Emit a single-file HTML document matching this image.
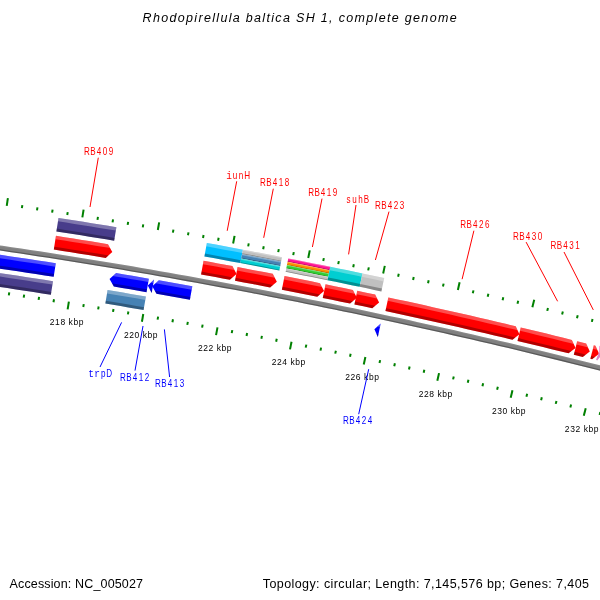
<!DOCTYPE html>
<html><head><meta charset="utf-8"><title>Rhodopirellula baltica SH 1</title>
<style>
html,body{margin:0;padding:0;background:#fff;}
body{width:600px;height:600px;overflow:hidden;}
svg{display:block;font-family:"Liberation Sans",sans-serif;will-change:transform;}
</style></head><body>
<svg width="600" height="600" viewBox="0 0 600 600">
<rect width="600" height="600" fill="#fff"/>
<polygon points="-25.42,241.71 -16.12,243.04 -6.83,244.39 2.46,245.75 11.75,247.13 21.04,248.52 30.32,249.92 39.60,251.34 48.88,252.78 58.16,254.23 67.44,255.69 76.71,257.17 85.98,258.66 95.25,260.17 104.52,261.70 113.78,263.23 123.04,264.78 132.30,266.35 141.56,267.93 150.81,269.53 160.06,271.14 169.31,272.76 178.56,274.40 187.80,276.06 197.04,277.73 206.28,279.41 215.51,281.11 224.75,282.82 233.98,284.55 243.20,286.29 252.43,288.05 261.65,289.82 270.87,291.60 280.09,293.40 289.30,295.22 298.51,297.04 307.72,298.89 316.92,300.75 326.13,302.62 335.32,304.50 344.52,306.41 353.71,308.32 362.90,310.25 372.09,312.20 381.27,314.16 390.45,316.13 399.63,318.12 408.81,320.12 417.98,322.14 427.14,324.17 436.31,326.22 445.47,328.28 454.63,330.35 463.78,332.44 472.94,334.55 482.08,336.67 491.23,338.80 500.37,340.95 509.51,343.11 518.64,345.28 527.77,347.47 536.90,349.68 546.03,351.90 555.15,354.13 564.26,356.38 573.38,358.64 582.49,360.92 591.60,363.21 600.70,365.52 609.80,367.84 618.89,370.17 617.61,375.16 608.52,372.83 599.43,370.51 590.33,368.21 581.24,365.92 572.13,363.64 563.03,361.38 553.92,359.13 544.81,356.90 535.69,354.68 526.57,352.48 517.45,350.29 508.32,348.12 499.19,345.96 490.05,343.81 480.92,341.68 471.78,339.57 462.63,337.46 453.49,335.38 444.34,333.30 435.18,331.24 426.03,329.20 416.87,327.17 407.70,325.15 398.54,323.15 389.37,321.17 380.19,319.19 371.02,317.24 361.84,315.29 352.66,313.36 343.47,311.45 334.29,309.55 325.09,307.66 315.90,305.79 306.70,303.94 297.50,302.09 288.30,300.27 279.10,298.45 269.89,296.66 260.68,294.87 251.46,293.10 242.25,291.35 233.03,289.61 223.80,287.88 214.58,286.17 205.35,284.48 196.12,282.79 186.89,281.13 177.65,279.47 168.41,277.84 159.17,276.21 149.93,274.60 140.68,273.01 131.44,271.43 122.19,269.86 112.93,268.31 103.68,266.78 94.42,265.26 85.16,263.75 75.90,262.26 66.63,260.78 57.36,259.32 48.09,257.87 38.82,256.43 29.55,255.01 20.27,253.61 10.99,252.22 1.71,250.84 -7.57,249.48 -16.86,248.14 -26.15,246.81" fill="rgb(128,128,128)" />
<polygon points="-25.42,241.71 -16.12,243.04 -6.83,244.39 2.46,245.75 11.75,247.13 21.04,248.52 30.32,249.92 39.60,251.34 48.88,252.78 58.16,254.23 67.44,255.69 76.71,257.17 85.98,258.66 95.25,260.17 104.52,261.70 113.78,263.23 123.04,264.78 132.30,266.35 141.56,267.93 150.81,269.53 160.06,271.14 169.31,272.76 178.56,274.40 187.80,276.06 197.04,277.73 206.28,279.41 215.51,281.11 224.75,282.82 233.98,284.55 243.20,286.29 252.43,288.05 261.65,289.82 270.87,291.60 280.09,293.40 289.30,295.22 298.51,297.04 307.72,298.89 316.92,300.75 326.13,302.62 335.32,304.50 344.52,306.41 353.71,308.32 362.90,310.25 372.09,312.20 381.27,314.16 390.45,316.13 399.63,318.12 408.81,320.12 417.98,322.14 427.14,324.17 436.31,326.22 445.47,328.28 454.63,330.35 463.78,332.44 472.94,334.55 482.08,336.67 491.23,338.80 500.37,340.95 509.51,343.11 518.64,345.28 527.77,347.47 536.90,349.68 546.03,351.90 555.15,354.13 564.26,356.38 573.38,358.64 582.49,360.92 591.60,363.21 600.70,365.52 609.80,367.84 618.89,370.17 618.59,371.33 609.50,369.00 600.40,366.68 591.30,364.38 582.20,362.08 573.09,359.81 563.98,357.55 554.86,355.30 545.74,353.06 536.62,350.85 527.49,348.64 518.36,346.45 509.23,344.28 500.09,342.11 490.96,339.97 481.81,337.83 472.67,335.72 463.52,333.61 454.36,331.52 445.21,329.45 436.05,327.39 426.88,325.34 417.72,323.31 408.55,321.29 399.38,319.29 390.20,317.30 381.02,315.33 371.84,313.37 362.65,311.43 353.47,309.50 344.28,307.58 335.08,305.68 325.88,303.79 316.68,301.92 307.48,300.06 298.28,298.22 289.07,296.39 279.86,294.58 270.64,292.78 261.42,290.99 252.20,289.22 242.98,287.47 233.76,285.73 224.53,284.00 215.30,282.29 206.06,280.59 196.83,278.91 187.59,277.24 178.35,275.59 169.10,273.95 159.85,272.32 150.60,270.71 141.35,269.12 132.10,267.53 122.84,265.97 113.58,264.42 104.32,262.88 95.06,261.36 85.79,259.85 76.52,258.36 67.25,256.88 57.98,255.41 48.70,253.96 39.42,252.53 30.14,251.11 20.86,249.70 11.57,248.31 2.29,246.94 -7.00,245.58 -16.29,244.23 -25.59,242.90" fill="rgba(255,255,255,0.08)" />
<polygon points="-25.96,245.52 -16.67,246.85 -7.39,248.20 1.90,249.56 11.18,250.93 20.46,252.32 29.74,253.73 39.02,255.15 48.29,256.58 57.56,258.03 66.83,259.49 76.10,260.97 85.37,262.47 94.63,263.97 103.89,265.49 113.15,267.03 122.40,268.58 131.65,270.15 140.90,271.73 150.15,273.32 159.40,274.93 168.64,276.56 177.88,278.19 187.12,279.85 196.35,281.51 205.59,283.20 214.82,284.89 224.04,286.61 233.27,288.33 242.49,290.07 251.71,291.83 260.92,293.60 270.14,295.38 279.35,297.18 288.55,298.99 297.76,300.82 306.96,302.66 316.16,304.52 325.35,306.39 334.55,308.28 343.74,310.18 352.92,312.09 362.11,314.02 371.29,315.96 380.47,317.92 389.64,319.89 398.81,321.88 407.98,323.88 417.15,325.90 426.31,327.93 435.47,329.97 444.62,332.03 453.77,334.11 462.92,336.20 472.07,338.30 481.21,340.42 490.35,342.55 499.49,344.69 508.62,346.85 517.75,349.03 526.87,351.22 536.00,353.42 545.11,355.64 554.23,357.87 563.34,360.12 572.45,362.38 581.55,364.65 590.65,366.94 599.75,369.25 608.84,371.57 617.93,373.90 617.61,375.16 608.52,372.83 599.43,370.51 590.33,368.21 581.24,365.92 572.13,363.64 563.03,361.38 553.92,359.13 544.81,356.90 535.69,354.68 526.57,352.48 517.45,350.29 508.32,348.12 499.19,345.96 490.05,343.81 480.92,341.68 471.78,339.57 462.63,337.46 453.49,335.38 444.34,333.30 435.18,331.24 426.03,329.20 416.87,327.17 407.70,325.15 398.54,323.15 389.37,321.17 380.19,319.19 371.02,317.24 361.84,315.29 352.66,313.36 343.47,311.45 334.29,309.55 325.09,307.66 315.90,305.79 306.70,303.94 297.50,302.09 288.30,300.27 279.10,298.45 269.89,296.66 260.68,294.87 251.46,293.10 242.25,291.35 233.03,289.61 223.80,287.88 214.58,286.17 205.35,284.48 196.12,282.79 186.89,281.13 177.65,279.47 168.41,277.84 159.17,276.21 149.93,274.60 140.68,273.01 131.44,271.43 122.19,269.86 112.93,268.31 103.68,266.78 94.42,265.26 85.16,263.75 75.90,262.26 66.63,260.78 57.36,259.32 48.09,257.87 38.82,256.43 29.55,255.01 20.27,253.61 10.99,252.22 1.71,250.84 -7.57,249.48 -16.86,248.14 -26.15,246.81" fill="rgba(0,0,0,0.3)" />
<line x1="-8.39" y1="203.59" x2="-7.96" y2="200.62" stroke="rgb(0,128,0)" stroke-width="2"/>
<line x1="-20.59" y1="288.01" x2="-21.02" y2="290.98" stroke="rgb(0,128,0)" stroke-width="2"/>
<line x1="6.75" y1="205.80" x2="7.88" y2="198.08" stroke="rgb(0,128,0)" stroke-width="2"/>
<line x1="-5.67" y1="290.19" x2="-6.80" y2="297.91" stroke="rgb(0,128,0)" stroke-width="2"/>
<line x1="21.88" y1="208.04" x2="22.33" y2="205.08" stroke="rgb(0,128,0)" stroke-width="2"/>
<line x1="9.25" y1="292.40" x2="8.81" y2="295.37" stroke="rgb(0,128,0)" stroke-width="2"/>
<line x1="37.01" y1="210.33" x2="37.46" y2="207.36" stroke="rgb(0,128,0)" stroke-width="2"/>
<line x1="24.17" y1="294.66" x2="23.71" y2="297.62" stroke="rgb(0,128,0)" stroke-width="2"/>
<line x1="52.13" y1="212.65" x2="52.59" y2="209.69" stroke="rgb(0,128,0)" stroke-width="2"/>
<line x1="39.07" y1="296.95" x2="38.62" y2="299.91" stroke="rgb(0,128,0)" stroke-width="2"/>
<line x1="67.25" y1="215.01" x2="67.72" y2="212.05" stroke="rgb(0,128,0)" stroke-width="2"/>
<line x1="53.98" y1="299.27" x2="53.51" y2="302.24" stroke="rgb(0,128,0)" stroke-width="2"/>
<line x1="82.36" y1="217.41" x2="83.60" y2="209.71" stroke="rgb(0,128,0)" stroke-width="2"/>
<line x1="68.87" y1="301.64" x2="67.64" y2="309.34" stroke="rgb(0,128,0)" stroke-width="2"/>
<line x1="97.47" y1="219.85" x2="97.95" y2="216.89" stroke="rgb(0,128,0)" stroke-width="2"/>
<line x1="83.76" y1="304.05" x2="83.28" y2="307.01" stroke="rgb(0,128,0)" stroke-width="2"/>
<line x1="112.57" y1="222.33" x2="113.06" y2="219.37" stroke="rgb(0,128,0)" stroke-width="2"/>
<line x1="98.65" y1="306.49" x2="98.16" y2="309.45" stroke="rgb(0,128,0)" stroke-width="2"/>
<line x1="127.66" y1="224.85" x2="128.16" y2="221.89" stroke="rgb(0,128,0)" stroke-width="2"/>
<line x1="113.52" y1="308.97" x2="113.03" y2="311.93" stroke="rgb(0,128,0)" stroke-width="2"/>
<line x1="142.75" y1="227.40" x2="143.25" y2="224.45" stroke="rgb(0,128,0)" stroke-width="2"/>
<line x1="128.40" y1="311.49" x2="127.89" y2="314.44" stroke="rgb(0,128,0)" stroke-width="2"/>
<line x1="157.83" y1="230.00" x2="159.16" y2="222.31" stroke="rgb(0,128,0)" stroke-width="2"/>
<line x1="143.26" y1="314.04" x2="141.93" y2="321.73" stroke="rgb(0,128,0)" stroke-width="2"/>
<line x1="172.90" y1="232.63" x2="173.42" y2="229.67" stroke="rgb(0,128,0)" stroke-width="2"/>
<line x1="158.12" y1="316.64" x2="157.60" y2="319.59" stroke="rgb(0,128,0)" stroke-width="2"/>
<line x1="187.96" y1="235.30" x2="188.49" y2="232.34" stroke="rgb(0,128,0)" stroke-width="2"/>
<line x1="172.97" y1="319.27" x2="172.44" y2="322.22" stroke="rgb(0,128,0)" stroke-width="2"/>
<line x1="203.02" y1="238.01" x2="203.56" y2="235.05" stroke="rgb(0,128,0)" stroke-width="2"/>
<line x1="187.82" y1="321.94" x2="187.28" y2="324.89" stroke="rgb(0,128,0)" stroke-width="2"/>
<line x1="218.08" y1="240.75" x2="218.62" y2="237.80" stroke="rgb(0,128,0)" stroke-width="2"/>
<line x1="202.65" y1="324.65" x2="202.11" y2="327.60" stroke="rgb(0,128,0)" stroke-width="2"/>
<line x1="233.12" y1="243.54" x2="234.55" y2="235.87" stroke="rgb(0,128,0)" stroke-width="2"/>
<line x1="217.48" y1="327.39" x2="216.05" y2="335.06" stroke="rgb(0,128,0)" stroke-width="2"/>
<line x1="248.16" y1="246.36" x2="248.72" y2="243.42" stroke="rgb(0,128,0)" stroke-width="2"/>
<line x1="232.31" y1="330.18" x2="231.75" y2="333.13" stroke="rgb(0,128,0)" stroke-width="2"/>
<line x1="263.19" y1="249.23" x2="263.75" y2="246.28" stroke="rgb(0,128,0)" stroke-width="2"/>
<line x1="247.13" y1="333.00" x2="246.56" y2="335.95" stroke="rgb(0,128,0)" stroke-width="2"/>
<line x1="278.21" y1="252.13" x2="278.79" y2="249.18" stroke="rgb(0,128,0)" stroke-width="2"/>
<line x1="261.93" y1="335.86" x2="261.36" y2="338.80" stroke="rgb(0,128,0)" stroke-width="2"/>
<line x1="293.23" y1="255.07" x2="293.81" y2="252.12" stroke="rgb(0,128,0)" stroke-width="2"/>
<line x1="276.74" y1="338.76" x2="276.16" y2="341.70" stroke="rgb(0,128,0)" stroke-width="2"/>
<line x1="308.24" y1="258.04" x2="309.76" y2="250.39" stroke="rgb(0,128,0)" stroke-width="2"/>
<line x1="291.53" y1="341.69" x2="290.00" y2="349.34" stroke="rgb(0,128,0)" stroke-width="2"/>
<line x1="323.24" y1="261.06" x2="323.83" y2="258.12" stroke="rgb(0,128,0)" stroke-width="2"/>
<line x1="306.32" y1="344.66" x2="305.72" y2="347.60" stroke="rgb(0,128,0)" stroke-width="2"/>
<line x1="338.23" y1="264.11" x2="338.83" y2="261.17" stroke="rgb(0,128,0)" stroke-width="2"/>
<line x1="321.10" y1="347.67" x2="320.50" y2="350.61" stroke="rgb(0,128,0)" stroke-width="2"/>
<line x1="353.22" y1="267.21" x2="353.83" y2="264.27" stroke="rgb(0,128,0)" stroke-width="2"/>
<line x1="335.87" y1="350.72" x2="335.26" y2="353.66" stroke="rgb(0,128,0)" stroke-width="2"/>
<line x1="368.19" y1="270.34" x2="368.81" y2="267.40" stroke="rgb(0,128,0)" stroke-width="2"/>
<line x1="350.63" y1="353.81" x2="350.02" y2="356.75" stroke="rgb(0,128,0)" stroke-width="2"/>
<line x1="383.16" y1="273.50" x2="384.79" y2="265.88" stroke="rgb(0,128,0)" stroke-width="2"/>
<line x1="365.39" y1="356.93" x2="363.76" y2="364.56" stroke="rgb(0,128,0)" stroke-width="2"/>
<line x1="398.12" y1="276.71" x2="398.76" y2="273.78" stroke="rgb(0,128,0)" stroke-width="2"/>
<line x1="380.14" y1="360.09" x2="379.51" y2="363.03" stroke="rgb(0,128,0)" stroke-width="2"/>
<line x1="413.08" y1="279.96" x2="413.72" y2="277.03" stroke="rgb(0,128,0)" stroke-width="2"/>
<line x1="394.88" y1="363.29" x2="394.24" y2="366.22" stroke="rgb(0,128,0)" stroke-width="2"/>
<line x1="428.02" y1="283.24" x2="428.67" y2="280.31" stroke="rgb(0,128,0)" stroke-width="2"/>
<line x1="409.61" y1="366.53" x2="408.96" y2="369.46" stroke="rgb(0,128,0)" stroke-width="2"/>
<line x1="442.96" y1="286.56" x2="443.61" y2="283.63" stroke="rgb(0,128,0)" stroke-width="2"/>
<line x1="424.33" y1="369.80" x2="423.68" y2="372.73" stroke="rgb(0,128,0)" stroke-width="2"/>
<line x1="457.88" y1="289.92" x2="459.61" y2="282.31" stroke="rgb(0,128,0)" stroke-width="2"/>
<line x1="439.05" y1="373.12" x2="437.33" y2="380.72" stroke="rgb(0,128,0)" stroke-width="2"/>
<line x1="472.80" y1="293.32" x2="473.47" y2="290.39" stroke="rgb(0,128,0)" stroke-width="2"/>
<line x1="453.75" y1="376.47" x2="453.08" y2="379.39" stroke="rgb(0,128,0)" stroke-width="2"/>
<line x1="487.71" y1="296.76" x2="488.39" y2="293.83" stroke="rgb(0,128,0)" stroke-width="2"/>
<line x1="468.45" y1="379.85" x2="467.77" y2="382.77" stroke="rgb(0,128,0)" stroke-width="2"/>
<line x1="502.61" y1="300.23" x2="503.30" y2="297.31" stroke="rgb(0,128,0)" stroke-width="2"/>
<line x1="483.14" y1="383.28" x2="482.46" y2="386.20" stroke="rgb(0,128,0)" stroke-width="2"/>
<line x1="517.51" y1="303.74" x2="518.20" y2="300.82" stroke="rgb(0,128,0)" stroke-width="2"/>
<line x1="497.82" y1="386.74" x2="497.13" y2="389.66" stroke="rgb(0,128,0)" stroke-width="2"/>
<line x1="532.39" y1="307.29" x2="534.21" y2="299.71" stroke="rgb(0,128,0)" stroke-width="2"/>
<line x1="512.49" y1="390.24" x2="510.67" y2="397.82" stroke="rgb(0,128,0)" stroke-width="2"/>
<line x1="547.26" y1="310.88" x2="547.97" y2="307.96" stroke="rgb(0,128,0)" stroke-width="2"/>
<line x1="527.16" y1="393.77" x2="526.45" y2="396.69" stroke="rgb(0,128,0)" stroke-width="2"/>
<line x1="562.13" y1="314.50" x2="562.84" y2="311.59" stroke="rgb(0,128,0)" stroke-width="2"/>
<line x1="541.81" y1="397.35" x2="541.09" y2="400.26" stroke="rgb(0,128,0)" stroke-width="2"/>
<line x1="576.98" y1="318.17" x2="577.71" y2="315.26" stroke="rgb(0,128,0)" stroke-width="2"/>
<line x1="556.45" y1="400.96" x2="555.73" y2="403.87" stroke="rgb(0,128,0)" stroke-width="2"/>
<line x1="591.83" y1="321.87" x2="592.56" y2="318.96" stroke="rgb(0,128,0)" stroke-width="2"/>
<line x1="571.09" y1="404.61" x2="570.36" y2="407.52" stroke="rgb(0,128,0)" stroke-width="2"/>
<line x1="606.67" y1="325.61" x2="608.58" y2="318.05" stroke="rgb(0,128,0)" stroke-width="2"/>
<line x1="585.71" y1="408.30" x2="583.80" y2="415.86" stroke="rgb(0,128,0)" stroke-width="2"/>
<line x1="621.49" y1="329.39" x2="622.24" y2="326.48" stroke="rgb(0,128,0)" stroke-width="2"/>
<line x1="600.33" y1="412.02" x2="599.59" y2="414.93" stroke="rgb(0,128,0)" stroke-width="2"/>
<line x1="636.31" y1="333.20" x2="637.06" y2="330.30" stroke="rgb(0,128,0)" stroke-width="2"/>
<line x1="614.94" y1="415.78" x2="614.18" y2="418.68" stroke="rgb(0,128,0)" stroke-width="2"/>
<text x="66.62" y="325.38" font-size="8.5" text-anchor="middle" fill="#000" textLength="33.6" lengthAdjust="spacing">218 kbp</text>
<text x="140.74" y="337.74" font-size="8.5" text-anchor="middle" fill="#000" textLength="33.6" lengthAdjust="spacing">220 kbp</text>
<text x="214.71" y="351.05" font-size="8.5" text-anchor="middle" fill="#000" textLength="33.6" lengthAdjust="spacing">222 kbp</text>
<text x="288.50" y="365.29" font-size="8.5" text-anchor="middle" fill="#000" textLength="33.6" lengthAdjust="spacing">224 kbp</text>
<text x="362.10" y="380.48" font-size="8.5" text-anchor="middle" fill="#000" textLength="33.6" lengthAdjust="spacing">226 kbp</text>
<text x="435.50" y="396.61" font-size="8.5" text-anchor="middle" fill="#000" textLength="33.6" lengthAdjust="spacing">228 kbp</text>
<text x="508.69" y="413.67" font-size="8.5" text-anchor="middle" fill="#000" textLength="33.6" lengthAdjust="spacing">230 kbp</text>
<text x="581.65" y="431.66" font-size="8.5" text-anchor="middle" fill="#000" textLength="33.6" lengthAdjust="spacing">232 kbp</text>
<polygon points="55.81,263.27 46.83,261.87 37.84,260.48 28.86,259.11 19.87,257.75 10.88,256.40 1.88,255.06 -7.11,253.74 -16.11,252.44 -25.11,251.15 -34.11,249.87 -43.11,248.60 -52.12,247.35 -61.12,246.12 -70.13,244.89 -76.49,250.95 -71.96,258.47 -62.98,259.69 -53.99,260.92 -45.01,262.17 -36.03,263.43 -27.04,264.71 -18.07,266.00 -9.09,267.30 -0.12,268.62 8.86,269.95 17.83,271.29 26.79,272.65 35.76,274.02 44.72,275.41 53.69,276.81" fill="rgb(0,0,255)" />
<polygon points="55.81,263.27 46.83,261.87 37.84,260.48 28.86,259.11 19.87,257.75 10.88,256.40 1.88,255.06 -7.11,253.74 -16.11,252.44 -25.11,251.15 -34.11,249.87 -43.11,248.60 -52.12,247.35 -61.12,246.12 -70.13,244.89 -73.31,247.92 -70.59,248.29 -61.59,249.51 -52.58,250.75 -43.59,252.00 -34.59,253.26 -25.59,254.54 -16.60,255.83 -7.61,257.13 1.38,258.45 10.37,259.79 19.36,261.13 28.34,262.49 37.32,263.87 46.30,265.25 55.28,266.66" fill="rgba(255,255,255,0.3)" />
<polygon points="54.13,273.96 45.17,272.56 36.20,271.18 27.23,269.81 18.25,268.45 9.28,267.10 0.30,265.77 -8.68,264.45 -17.66,263.15 -26.64,261.86 -35.62,260.58 -44.61,259.32 -53.60,258.07 -62.59,256.84 -71.58,255.62 -73.87,255.31 -71.96,258.47 -62.98,259.69 -53.99,260.92 -45.01,262.17 -36.03,263.43 -27.04,264.71 -18.07,266.00 -9.09,267.30 -0.12,268.62 8.86,269.95 17.83,271.29 26.79,272.65 35.76,274.02 44.72,275.41 53.69,276.81" fill="rgba(0,0,0,0.3)" />
<polygon points="-78.00,262.15 -69.25,263.33 -60.51,264.52 -51.76,265.72 -43.02,266.94 -34.28,268.17 -25.55,269.42 -16.81,270.68 -8.08,271.95 0.65,273.23 9.38,274.53 18.11,275.84 26.83,277.16 35.56,278.49 44.28,279.84 53.00,281.20 50.87,294.74 42.17,293.38 33.47,292.03 24.77,290.70 16.06,289.38 7.36,288.08 -1.35,286.78 -10.06,285.50 -18.78,284.23 -27.49,282.98 -36.21,281.74 -44.92,280.51 -53.64,279.29 -62.37,278.09 -71.09,276.90 -79.82,275.73" fill="rgb(72,61,139)" />
<polygon points="-78.00,262.15 -69.25,263.33 -60.51,264.52 -51.76,265.72 -43.02,266.94 -34.28,268.17 -25.55,269.42 -16.81,270.68 -8.08,271.95 0.65,273.23 9.38,274.53 18.11,275.84 26.83,277.16 35.56,278.49 44.28,279.84 53.00,281.20 52.46,284.59 43.75,283.23 35.03,281.88 26.32,280.54 17.60,279.22 8.87,277.91 0.15,276.62 -8.58,275.34 -17.30,274.07 -26.03,272.81 -34.77,271.57 -43.50,270.33 -52.23,269.12 -60.97,267.91 -69.71,266.72 -78.45,265.54" fill="rgba(255,255,255,0.3)" />
<polygon points="-79.43,272.87 -70.70,274.05 -61.98,275.24 -53.25,276.44 -44.53,277.66 -35.80,278.89 -27.08,280.13 -18.36,281.39 -9.65,282.66 -0.93,283.94 7.78,285.23 16.49,286.54 25.20,287.86 33.91,289.19 42.61,290.54 51.32,291.90 50.87,294.74 42.17,293.38 33.47,292.03 24.77,290.70 16.06,289.38 7.36,288.08 -1.35,286.78 -10.06,285.50 -18.78,284.23 -27.49,282.98 -36.21,281.74 -44.92,280.51 -53.64,279.29 -62.37,278.09 -71.09,276.90 -79.82,275.73" fill="rgba(0,0,0,0.3)" />
<polygon points="148.86,278.63 140.67,277.22 132.48,275.82 124.29,274.43 116.10,273.05 109.55,278.90 113.84,286.56 122.01,287.94 130.18,289.32 138.35,290.72 146.52,292.13" fill="rgb(0,0,255)" />
<polygon points="148.86,278.63 140.67,277.22 132.48,275.82 124.29,274.43 116.10,273.05 112.82,275.97 115.53,276.43 123.72,277.80 131.91,279.19 140.09,280.59 148.27,282.00" fill="rgba(255,255,255,0.3)" />
<polygon points="147.01,289.29 138.84,287.88 130.67,286.49 122.49,285.10 114.31,283.72 112.04,283.34 113.84,286.56 122.01,287.94 130.18,289.32 138.35,290.72 146.52,292.13" fill="rgba(0,0,0,0.3)" />
<polygon points="107.58,290.03 115.25,291.31 122.92,292.60 130.58,293.90 138.25,295.22 145.91,296.54 143.57,310.04 135.93,308.72 128.28,307.41 120.63,306.11 112.98,304.82 105.33,303.54" fill="rgb(70,130,180)" />
<polygon points="107.58,290.03 115.25,291.31 122.92,292.60 130.58,293.90 138.25,295.22 145.91,296.54 145.33,299.91 137.67,298.59 130.01,297.28 122.35,295.98 114.68,294.69 107.02,293.41" fill="rgba(255,255,255,0.3)" />
<polygon points="105.80,300.70 113.46,301.98 121.11,303.27 128.76,304.57 136.41,305.88 144.06,307.20 143.57,310.04 135.93,308.72 128.28,307.41 120.63,306.11 112.98,304.82 105.33,303.54" fill="rgba(0,0,0,0.3)" />
<polygon points="154.05,279.53 154.05,279.53 147.80,285.40 151.70,293.03 151.70,293.03" fill="rgb(0,0,255)" />
<polygon points="154.05,279.53 154.05,279.53 150.93,282.46 153.47,282.91 153.47,282.91" fill="rgba(255,255,255,0.3)" />
<polygon points="152.20,290.19 152.20,290.19 150.07,289.82 151.70,293.03 151.70,293.03" fill="rgba(0,0,0,0.3)" />
<polygon points="192.34,286.33 183.97,284.82 175.59,283.32 167.22,281.84 158.84,280.37 152.24,286.17 156.48,293.86 164.84,295.33 173.19,296.81 181.55,298.30 189.90,299.81" fill="rgb(0,0,255)" />
<polygon points="192.34,286.33 183.97,284.82 175.59,283.32 167.22,281.84 158.84,280.37 155.54,283.27 158.25,283.74 166.62,285.21 174.99,286.69 183.36,288.19 191.73,289.70" fill="rgba(255,255,255,0.3)" />
<polygon points="190.41,296.98 182.06,295.47 173.70,293.98 165.34,292.50 156.97,291.03 154.70,290.63 156.48,293.86 164.84,295.33 173.19,296.81 181.55,298.30 189.90,299.81" fill="rgba(0,0,0,0.3)" />
<polygon points="380.72,323.55 380.72,323.55 374.40,329.20 377.85,336.95 377.85,336.95" fill="rgb(0,0,255)" />
<polygon points="380.72,323.55 380.72,323.55 377.56,326.38 380.01,326.90 380.01,326.90" fill="rgba(255,255,255,0.3)" />
<polygon points="378.45,334.13 378.45,334.13 376.40,333.69 377.85,336.95 377.85,336.95" fill="rgba(0,0,0,0.3)" />
<polygon points="55.95,235.81 64.63,237.18 73.30,238.55 81.98,239.94 90.65,241.34 99.32,242.75 107.99,244.18 112.30,251.94 105.72,257.89 97.07,256.47 88.42,255.06 79.77,253.66 71.12,252.28 62.46,250.91 53.81,249.55" fill="rgb(255,0,0)" />
<polygon points="55.95,235.81 64.63,237.18 73.30,238.55 81.98,239.94 90.65,241.34 99.32,242.75 107.99,244.18 110.15,248.06 107.42,247.61 98.76,246.18 90.09,244.77 81.43,243.37 72.76,241.98 64.09,240.61 55.41,239.25" fill="rgba(255,255,255,0.3)" />
<polygon points="54.26,246.66 62.92,248.02 71.58,249.40 80.24,250.78 88.89,252.18 97.55,253.59 106.20,255.01 108.48,255.39 105.72,257.89 97.07,256.47 88.42,255.06 79.77,253.66 71.12,252.28 62.46,250.91 53.81,249.55" fill="rgba(0,0,0,0.3)" />
<polygon points="58.48,217.89 66.76,219.19 75.04,220.50 83.32,221.82 91.59,223.15 99.87,224.50 108.14,225.86 116.41,227.23 114.16,240.74 105.91,239.37 97.66,238.02 89.40,236.68 81.15,235.35 72.89,234.03 64.63,232.72 56.37,231.43" fill="rgb(72,61,139)" />
<polygon points="58.48,217.89 66.76,219.19 75.04,220.50 83.32,221.82 91.59,223.15 99.87,224.50 108.14,225.86 116.41,227.23 115.85,230.60 107.58,229.24 99.31,227.88 91.05,226.54 82.77,225.20 74.50,223.88 66.23,222.57 57.95,221.27" fill="rgba(255,255,255,0.3)" />
<polygon points="56.81,228.58 65.08,229.88 73.34,231.19 81.60,232.51 89.86,233.84 98.12,235.18 106.38,236.54 114.63,237.90 114.16,240.74 105.91,239.37 97.66,238.02 89.40,236.68 81.15,235.35 72.89,234.03 64.63,232.72 56.37,231.43" fill="rgba(0,0,0,0.3)" />
<polygon points="203.55,260.77 210.76,262.08 217.98,263.41 225.19,264.75 232.40,266.09 236.55,273.94 229.85,279.75 222.65,278.41 215.46,277.08 208.26,275.76 201.06,274.44" fill="rgb(255,0,0)" />
<polygon points="203.55,260.77 210.76,262.08 217.98,263.41 225.19,264.75 232.40,266.09 234.48,270.02 231.77,269.51 224.56,268.16 217.35,266.83 210.14,265.50 202.93,264.19" fill="rgba(255,255,255,0.3)" />
<polygon points="201.58,271.57 208.78,272.89 215.99,274.21 223.19,275.54 230.39,276.89 232.66,277.31 229.85,279.75 222.65,278.41 215.46,277.08 208.26,275.76 201.06,274.44" fill="rgba(0,0,0,0.3)" />
<polygon points="206.86,242.97 215.87,244.62 224.87,246.28 233.87,247.95 242.87,249.64 240.34,263.10 231.36,261.42 222.38,259.75 213.40,258.09 204.41,256.45" fill="rgb(0,191,255)" />
<polygon points="206.86,242.97 215.87,244.62 224.87,246.28 233.87,247.95 242.87,249.64 242.24,253.01 233.24,251.32 224.25,249.65 215.25,247.99 206.25,246.34" fill="rgba(255,255,255,0.3)" />
<polygon points="204.93,253.62 213.91,255.26 222.90,256.92 231.89,258.59 240.87,260.28 240.34,263.10 231.36,261.42 222.38,259.75 213.40,258.09 204.41,256.45" fill="rgba(0,0,0,0.3)" />
<polygon points="237.57,267.06 246.37,268.72 255.17,270.40 263.97,272.08 272.76,273.78 276.85,281.66 270.11,287.43 261.34,285.73 252.56,284.05 243.79,282.38 235.01,280.72" fill="rgb(255,0,0)" />
<polygon points="237.57,267.06 246.37,268.72 255.17,270.40 263.97,272.08 272.76,273.78 274.81,277.72 272.10,277.20 263.31,275.50 254.52,273.81 245.73,272.14 236.93,270.48" fill="rgba(255,255,255,0.3)" />
<polygon points="235.55,277.85 244.33,279.51 253.11,281.18 261.89,282.87 270.67,284.56 272.94,285.01 270.11,287.43 261.34,285.73 252.56,284.05 243.79,282.38 235.01,280.72" fill="rgba(0,0,0,0.3)" />
<polygon points="242.87,249.64 250.70,251.12 258.52,252.61 266.35,254.11 274.17,255.62 281.99,257.14 281.11,261.62 273.30,260.10 265.48,258.59 257.67,257.09 249.85,255.61 242.03,254.13" fill="rgb(192,192,192)" />
<polygon points="242.87,249.64 250.70,251.12 258.52,252.61 266.35,254.11 274.17,255.62 281.99,257.14 281.77,258.26 273.95,256.74 266.13,255.23 258.31,253.73 250.49,252.24 242.66,250.76" fill="rgba(255,255,255,0.3)" />
<polygon points="242.20,253.19 250.03,254.66 257.85,256.15 265.67,257.65 273.48,259.16 281.30,260.68 281.11,261.62 273.30,260.10 265.48,258.59 257.67,257.09 249.85,255.61 242.03,254.13" fill="rgba(0,0,0,0.3)" />
<polygon points="242.03,254.13 249.85,255.61 257.67,257.09 265.48,258.59 273.30,260.10 281.11,261.62 280.24,266.11 272.43,264.59 264.62,263.08 256.81,261.58 249.00,260.09 241.18,258.62" fill="rgb(70,130,180)" />
<polygon points="242.03,254.13 249.85,255.61 257.67,257.09 265.48,258.59 273.30,260.10 281.11,261.62 280.90,262.74 273.08,261.22 265.27,259.72 257.45,258.22 249.63,256.73 241.81,255.25" fill="rgba(255,255,255,0.3)" />
<polygon points="241.36,257.67 249.17,259.15 256.99,260.64 264.80,262.14 272.61,263.65 280.42,265.16 280.24,266.11 272.43,264.59 264.62,263.08 256.81,261.58 249.00,260.09 241.18,258.62" fill="rgba(0,0,0,0.3)" />
<polygon points="241.18,258.62 249.00,260.09 256.81,261.58 264.62,263.08 272.43,264.59 280.24,266.11 279.36,270.59 271.56,269.07 263.76,267.56 255.95,266.07 248.15,264.58 240.34,263.10" fill="rgb(0,206,209)" />
<polygon points="241.18,258.62 249.00,260.09 256.81,261.58 264.62,263.08 272.43,264.59 280.24,266.11 280.02,267.23 272.21,265.71 264.41,264.20 256.60,262.70 248.78,261.21 240.97,259.74" fill="rgba(255,255,255,0.3)" />
<polygon points="240.51,262.16 248.32,263.64 256.13,265.12 263.94,266.62 271.74,268.13 279.55,269.65 279.36,270.59 271.56,269.07 263.76,267.56 255.95,266.07 248.15,264.58 240.34,263.10" fill="rgba(0,0,0,0.3)" />
<polygon points="284.54,276.08 293.41,277.83 302.28,279.59 311.15,281.37 320.01,283.16 324.04,291.07 317.25,296.78 308.41,295.00 299.56,293.23 290.72,291.47 281.86,289.72" fill="rgb(255,0,0)" />
<polygon points="284.54,276.08 293.41,277.83 302.28,279.59 311.15,281.37 320.01,283.16 322.03,287.11 319.32,286.56 310.46,284.78 301.60,283.00 292.74,281.24 283.87,279.49" fill="rgba(255,255,255,0.3)" />
<polygon points="282.43,286.86 291.28,288.61 300.13,290.36 308.98,292.14 317.83,293.92 320.10,294.38 317.25,296.78 308.41,295.00 299.56,293.23 290.72,291.47 281.86,289.72" fill="rgba(0,0,0,0.3)" />
<polygon points="288.29,258.38 296.69,260.03 305.09,261.70 313.49,263.38 321.88,265.07 330.27,266.77 329.59,270.13 321.20,268.43 312.81,266.74 304.42,265.06 296.03,263.39 287.63,261.74" fill="rgb(255,20,147)" />
<polygon points="288.29,258.38 296.69,260.03 305.09,261.70 313.49,263.38 321.88,265.07 330.27,266.77 330.10,267.61 321.71,265.91 313.32,264.22 304.92,262.54 296.53,260.87 288.13,259.22" fill="rgba(255,255,255,0.3)" />
<polygon points="287.77,261.03 296.17,262.69 304.56,264.35 312.95,266.03 321.34,267.72 329.73,269.42 329.59,270.13 321.20,268.43 312.81,266.74 304.42,265.06 296.03,263.39 287.63,261.74" fill="rgba(0,0,0,0.3)" />
<polygon points="287.63,261.74 296.03,263.39 304.42,265.06 312.81,266.74 321.20,268.43 329.59,270.13 328.90,273.49 320.52,271.78 312.14,270.09 303.75,268.42 295.36,266.75 286.97,265.10" fill="rgb(255,140,0)" />
<polygon points="287.63,261.74 296.03,263.39 304.42,265.06 312.81,266.74 321.20,268.43 329.59,270.13 329.42,270.97 321.03,269.27 312.64,267.58 304.25,265.90 295.86,264.23 287.47,262.58" fill="rgba(255,255,255,0.3)" />
<polygon points="287.11,264.39 295.50,266.05 303.89,267.71 312.28,269.39 320.66,271.08 329.05,272.78 328.90,273.49 320.52,271.78 312.14,270.09 303.75,268.42 295.36,266.75 286.97,265.10" fill="rgba(0,0,0,0.3)" />
<polygon points="286.97,265.10 295.36,266.75 303.75,268.42 312.14,270.09 320.52,271.78 328.90,273.49 328.22,276.84 319.84,275.14 311.46,273.45 303.08,271.78 294.70,270.11 286.31,268.46" fill="rgb(50,205,50)" />
<polygon points="286.97,265.10 295.36,266.75 303.75,268.42 312.14,270.09 320.52,271.78 328.90,273.49 328.73,274.32 320.35,272.62 311.97,270.93 303.58,269.26 295.20,267.59 286.81,265.94" fill="rgba(255,255,255,0.3)" />
<polygon points="286.45,267.75 294.84,269.40 303.22,271.07 311.61,272.75 319.99,274.44 328.36,276.14 328.22,276.84 319.84,275.14 311.46,273.45 303.08,271.78 294.70,270.11 286.31,268.46" fill="rgba(0,0,0,0.3)" />
<polygon points="286.31,268.46 294.70,270.11 303.08,271.78 311.46,273.45 319.84,275.14 328.22,276.84 327.54,280.20 319.16,278.50 310.79,276.81 302.41,275.13 294.03,273.47 285.65,271.82" fill="rgb(192,192,192)" />
<polygon points="286.31,268.46 294.70,270.11 303.08,271.78 311.46,273.45 319.84,275.14 328.22,276.84 328.05,277.68 319.67,275.98 311.30,274.29 302.91,272.61 294.53,270.95 286.15,269.30" fill="rgba(255,255,255,0.3)" />
<polygon points="285.79,271.11 294.17,272.76 302.55,274.43 310.93,276.10 319.31,277.79 327.68,279.49 327.54,280.20 319.16,278.50 310.79,276.81 302.41,275.13 294.03,273.47 285.65,271.82" fill="rgba(0,0,0,0.3)" />
<polygon points="325.54,284.28 334.66,286.15 343.78,288.02 352.90,289.92 356.88,297.85 350.06,303.52 340.96,301.64 331.87,299.76 322.76,297.90" fill="rgb(255,0,0)" />
<polygon points="325.54,284.28 334.66,286.15 343.78,288.02 352.90,289.92 354.89,293.88 352.19,293.32 343.08,291.43 333.96,289.55 324.84,287.69" fill="rgba(255,255,255,0.3)" />
<polygon points="323.35,295.04 332.45,296.90 341.56,298.78 350.66,300.67 352.92,301.14 350.06,303.52 340.96,301.64 331.87,299.76 322.76,297.90" fill="rgba(0,0,0,0.3)" />
<polygon points="330.27,266.77 338.32,268.42 346.37,270.08 354.42,271.75 362.47,273.43 359.66,286.83 351.63,285.16 343.60,283.49 335.57,281.84 327.54,280.20" fill="rgb(0,206,209)" />
<polygon points="330.27,266.77 338.32,268.42 346.37,270.08 354.42,271.75 362.47,273.43 361.76,276.78 353.72,275.10 345.68,273.43 337.63,271.77 329.59,270.13" fill="rgba(255,255,255,0.3)" />
<polygon points="328.11,277.38 336.15,279.02 344.18,280.68 352.22,282.34 360.25,284.02 359.66,286.83 351.63,285.16 343.60,283.49 335.57,281.84 327.54,280.20" fill="rgba(0,0,0,0.3)" />
<polygon points="357.26,290.83 366.21,292.71 375.16,294.60 379.12,302.55 372.27,308.20 363.35,306.31 354.42,304.43" fill="rgb(255,0,0)" />
<polygon points="357.26,290.83 366.21,292.71 375.16,294.60 377.14,298.58 374.44,298.00 365.50,296.11 356.55,294.23" fill="rgba(255,255,255,0.3)" />
<polygon points="355.01,301.58 363.95,303.45 372.88,305.34 375.15,305.82 372.27,308.20 363.35,306.31 354.42,304.43" fill="rgba(0,0,0,0.3)" />
<polygon points="362.47,273.43 369.72,274.95 376.98,276.48 384.23,278.03 381.37,291.43 374.14,289.89 366.90,288.36 359.66,286.83" fill="rgb(192,192,192)" />
<polygon points="362.47,273.43 369.72,274.95 376.98,276.48 384.23,278.03 383.52,281.38 376.27,279.83 369.02,278.30 361.76,276.78" fill="rgba(255,255,255,0.3)" />
<polygon points="360.25,284.02 367.49,285.54 374.73,287.07 381.97,288.61 381.37,291.43 374.14,289.89 366.90,288.36 359.66,286.83" fill="rgba(0,0,0,0.3)" />
<polygon points="388.35,297.42 397.47,299.39 406.58,301.37 415.69,303.36 424.80,305.37 433.91,307.39 443.01,309.43 452.10,311.48 461.20,313.54 470.29,315.62 479.38,317.72 488.46,319.82 497.54,321.95 506.62,324.08 515.70,326.23 519.46,334.27 512.48,339.75 503.43,337.61 494.37,335.48 485.31,333.36 476.25,331.26 467.18,329.17 458.11,327.10 449.04,325.03 439.96,322.99 430.88,320.96 421.80,318.94 412.71,316.94 403.62,314.95 394.53,312.97 385.44,311.01" fill="rgb(255,0,0)" />
<polygon points="388.35,297.42 397.47,299.39 406.58,301.37 415.69,303.36 424.80,305.37 433.91,307.39 443.01,309.43 452.10,311.48 461.20,313.54 470.29,315.62 479.38,317.72 488.46,319.82 497.54,321.95 506.62,324.08 515.70,326.23 517.58,330.25 514.89,329.61 505.82,327.46 496.75,325.33 487.67,323.21 478.60,321.10 469.51,319.01 460.43,316.93 451.34,314.87 442.25,312.82 433.15,310.78 424.05,308.76 414.95,306.75 405.84,304.76 396.74,302.78 387.62,300.82" fill="rgba(255,255,255,0.3)" />
<polygon points="386.05,308.16 395.15,310.12 404.24,312.09 413.34,314.08 422.43,316.09 431.52,318.11 440.60,320.14 449.68,322.19 458.76,324.25 467.83,326.32 476.90,328.41 485.97,330.52 495.04,332.64 504.10,334.77 513.16,336.91 515.41,337.45 512.48,339.75 503.43,337.61 494.37,335.48 485.31,333.36 476.25,331.26 467.18,329.17 458.11,327.10 449.04,325.03 439.96,322.99 430.88,320.96 421.80,318.94 412.71,316.94 403.62,314.95 394.53,312.97 385.44,311.01" fill="rgba(0,0,0,0.3)" />
<polygon points="520.74,327.43 529.27,329.48 537.80,331.53 546.32,333.60 554.84,335.68 563.36,337.77 571.88,339.88 575.56,347.95 568.53,353.37 560.03,351.27 551.54,349.18 543.03,347.10 534.53,345.04 526.02,342.99 517.51,340.95" fill="rgb(255,0,0)" />
<polygon points="520.74,327.43 529.27,329.48 537.80,331.53 546.32,333.60 554.84,335.68 563.36,337.77 571.88,339.88 573.72,343.92 571.04,343.25 562.53,341.15 554.02,339.05 545.50,336.97 536.98,334.91 528.46,332.85 519.93,330.81" fill="rgba(255,255,255,0.3)" />
<polygon points="518.19,338.11 526.70,340.15 535.22,342.20 543.72,344.27 552.23,346.34 560.73,348.43 569.23,350.53 571.48,351.09 568.53,353.37 560.03,351.27 551.54,349.18 543.03,347.10 534.53,345.04 526.02,342.99 517.51,340.95" fill="rgba(0,0,0,0.3)" />
<polygon points="577.16,341.19 586.15,343.44 589.81,351.52 582.77,356.92 573.81,354.68" fill="rgb(255,0,0)" />
<polygon points="577.16,341.19 586.15,343.44 587.98,347.48 585.30,346.81 576.32,344.56" fill="rgba(255,255,255,0.3)" />
<polygon points="574.51,351.85 583.48,354.09 585.73,354.65 582.77,356.92 573.81,354.68" fill="rgba(0,0,0,0.3)" />
<polygon points="593.80,345.36 595.46,345.78 599.11,353.87 592.06,359.26 590.40,358.84" fill="rgb(255,0,0)" />
<polygon points="593.80,345.36 595.46,345.78 597.29,349.82 594.61,349.15 592.95,348.73" fill="rgba(255,255,255,0.3)" />
<polygon points="591.12,356.01 592.78,356.43 595.02,356.99 592.06,359.26 590.40,358.84" fill="rgba(0,0,0,0.3)" />
<polygon points="599.2,346 600,345.8 600,355.5 598.7,353.6" fill="rgb(255,155,212)"/>
<polygon points="598.7,353 600,353.5 600,357 597.2,360.6 596.1,359.8" fill="rgb(222,130,196)"/>
<line x1="98.3" y1="157.7" x2="90.0" y2="207.0" stroke="rgb(255,0,0)" stroke-width="1"/>
<text transform="translate(87.00,155.0) scale(0.77,1)" font-size="10.5" text-anchor="middle" fill="rgb(255,0,0)">R</text>
<text transform="translate(93.00,155.0) scale(0.77,1)" font-size="10.5" text-anchor="middle" fill="rgb(255,0,0)">B</text>
<text transform="translate(99.00,155.0) scale(0.77,1)" font-size="10.5" text-anchor="middle" fill="rgb(255,0,0)">4</text>
<text transform="translate(105.00,155.0) scale(0.77,1)" font-size="10.5" text-anchor="middle" fill="rgb(255,0,0)">0</text>
<text transform="translate(111.00,155.0) scale(0.77,1)" font-size="10.5" text-anchor="middle" fill="rgb(255,0,0)">9</text>
<line x1="236.7" y1="181.3" x2="227.2" y2="230.8" stroke="rgb(255,0,0)" stroke-width="1"/>
<text transform="translate(229.10,178.7) scale(0.95,1.13)" font-family="Liberation Mono, monospace" font-size="10" text-anchor="middle" fill="rgb(255,0,0)">i</text>
<text transform="translate(235.10,178.7) scale(0.77,1)" font-size="10.5" text-anchor="middle" fill="rgb(255,0,0)">u</text>
<text transform="translate(241.10,178.7) scale(0.77,1)" font-size="10.5" text-anchor="middle" fill="rgb(255,0,0)">n</text>
<text transform="translate(247.10,178.7) scale(0.77,1)" font-size="10.5" text-anchor="middle" fill="rgb(255,0,0)">H</text>
<line x1="273.3" y1="188.7" x2="263.7" y2="237.8" stroke="rgb(255,0,0)" stroke-width="1"/>
<text transform="translate(263.00,185.8) scale(0.77,1)" font-size="10.5" text-anchor="middle" fill="rgb(255,0,0)">R</text>
<text transform="translate(269.00,185.8) scale(0.77,1)" font-size="10.5" text-anchor="middle" fill="rgb(255,0,0)">B</text>
<text transform="translate(275.00,185.8) scale(0.77,1)" font-size="10.5" text-anchor="middle" fill="rgb(255,0,0)">4</text>
<text transform="translate(281.00,185.8) scale(0.77,1)" font-size="10.5" text-anchor="middle" fill="rgb(255,0,0)">1</text>
<text transform="translate(287.00,185.8) scale(0.77,1)" font-size="10.5" text-anchor="middle" fill="rgb(255,0,0)">8</text>
<line x1="322.0" y1="198.6" x2="312.4" y2="247.0" stroke="rgb(255,0,0)" stroke-width="1"/>
<text transform="translate(311.10,195.6) scale(0.77,1)" font-size="10.5" text-anchor="middle" fill="rgb(255,0,0)">R</text>
<text transform="translate(317.10,195.6) scale(0.77,1)" font-size="10.5" text-anchor="middle" fill="rgb(255,0,0)">B</text>
<text transform="translate(323.10,195.6) scale(0.77,1)" font-size="10.5" text-anchor="middle" fill="rgb(255,0,0)">4</text>
<text transform="translate(329.10,195.6) scale(0.77,1)" font-size="10.5" text-anchor="middle" fill="rgb(255,0,0)">1</text>
<text transform="translate(335.10,195.6) scale(0.77,1)" font-size="10.5" text-anchor="middle" fill="rgb(255,0,0)">9</text>
<line x1="356.0" y1="205.0" x2="348.6" y2="254.4" stroke="rgb(255,0,0)" stroke-width="1"/>
<text transform="translate(348.50,202.6) scale(0.77,1)" font-size="10.5" text-anchor="middle" fill="rgb(255,0,0)">s</text>
<text transform="translate(354.50,202.6) scale(0.77,1)" font-size="10.5" text-anchor="middle" fill="rgb(255,0,0)">u</text>
<text transform="translate(360.50,202.6) scale(0.77,1)" font-size="10.5" text-anchor="middle" fill="rgb(255,0,0)">h</text>
<text transform="translate(366.50,202.6) scale(0.77,1)" font-size="10.5" text-anchor="middle" fill="rgb(255,0,0)">B</text>
<line x1="389.0" y1="211.6" x2="375.4" y2="260.0" stroke="rgb(255,0,0)" stroke-width="1"/>
<text transform="translate(378.00,208.6) scale(0.77,1)" font-size="10.5" text-anchor="middle" fill="rgb(255,0,0)">R</text>
<text transform="translate(384.00,208.6) scale(0.77,1)" font-size="10.5" text-anchor="middle" fill="rgb(255,0,0)">B</text>
<text transform="translate(390.00,208.6) scale(0.77,1)" font-size="10.5" text-anchor="middle" fill="rgb(255,0,0)">4</text>
<text transform="translate(396.00,208.6) scale(0.77,1)" font-size="10.5" text-anchor="middle" fill="rgb(255,0,0)">2</text>
<text transform="translate(402.00,208.6) scale(0.77,1)" font-size="10.5" text-anchor="middle" fill="rgb(255,0,0)">3</text>
<line x1="473.9" y1="230.7" x2="462.1" y2="279.2" stroke="rgb(255,0,0)" stroke-width="1"/>
<text transform="translate(463.20,227.5) scale(0.77,1)" font-size="10.5" text-anchor="middle" fill="rgb(255,0,0)">R</text>
<text transform="translate(469.20,227.5) scale(0.77,1)" font-size="10.5" text-anchor="middle" fill="rgb(255,0,0)">B</text>
<text transform="translate(475.20,227.5) scale(0.77,1)" font-size="10.5" text-anchor="middle" fill="rgb(255,0,0)">4</text>
<text transform="translate(481.20,227.5) scale(0.77,1)" font-size="10.5" text-anchor="middle" fill="rgb(255,0,0)">2</text>
<text transform="translate(487.20,227.5) scale(0.77,1)" font-size="10.5" text-anchor="middle" fill="rgb(255,0,0)">6</text>
<line x1="526.1" y1="242.1" x2="557.6" y2="301.3" stroke="rgb(255,0,0)" stroke-width="1"/>
<text transform="translate(516.00,239.5) scale(0.77,1)" font-size="10.5" text-anchor="middle" fill="rgb(255,0,0)">R</text>
<text transform="translate(522.00,239.5) scale(0.77,1)" font-size="10.5" text-anchor="middle" fill="rgb(255,0,0)">B</text>
<text transform="translate(528.00,239.5) scale(0.77,1)" font-size="10.5" text-anchor="middle" fill="rgb(255,0,0)">4</text>
<text transform="translate(534.00,239.5) scale(0.77,1)" font-size="10.5" text-anchor="middle" fill="rgb(255,0,0)">3</text>
<text transform="translate(540.00,239.5) scale(0.77,1)" font-size="10.5" text-anchor="middle" fill="rgb(255,0,0)">0</text>
<line x1="564.0" y1="252.0" x2="593.3" y2="309.9" stroke="rgb(255,0,0)" stroke-width="1"/>
<text transform="translate(553.50,248.8) scale(0.77,1)" font-size="10.5" text-anchor="middle" fill="rgb(255,0,0)">R</text>
<text transform="translate(559.50,248.8) scale(0.77,1)" font-size="10.5" text-anchor="middle" fill="rgb(255,0,0)">B</text>
<text transform="translate(565.50,248.8) scale(0.77,1)" font-size="10.5" text-anchor="middle" fill="rgb(255,0,0)">4</text>
<text transform="translate(571.50,248.8) scale(0.77,1)" font-size="10.5" text-anchor="middle" fill="rgb(255,0,0)">3</text>
<text transform="translate(577.50,248.8) scale(0.77,1)" font-size="10.5" text-anchor="middle" fill="rgb(255,0,0)">1</text>
<line x1="121.6" y1="322.4" x2="100.0" y2="367.0" stroke="rgb(0,0,255)" stroke-width="1"/>
<text transform="translate(91.20,376.6) scale(0.95,1.13)" font-family="Liberation Mono, monospace" font-size="10" text-anchor="middle" fill="rgb(0,0,255)">t</text>
<text transform="translate(97.20,376.6) scale(0.95,1.13)" font-family="Liberation Mono, monospace" font-size="10" text-anchor="middle" fill="rgb(0,0,255)">r</text>
<text transform="translate(103.20,376.6) scale(0.77,1)" font-size="10.5" text-anchor="middle" fill="rgb(0,0,255)">p</text>
<text transform="translate(109.20,376.6) scale(0.77,1)" font-size="10.5" text-anchor="middle" fill="rgb(0,0,255)">D</text>
<line x1="143.0" y1="326.0" x2="135.0" y2="370.6" stroke="rgb(0,0,255)" stroke-width="1"/>
<text transform="translate(123.00,380.6) scale(0.77,1)" font-size="10.5" text-anchor="middle" fill="rgb(0,0,255)">R</text>
<text transform="translate(129.00,380.6) scale(0.77,1)" font-size="10.5" text-anchor="middle" fill="rgb(0,0,255)">B</text>
<text transform="translate(135.00,380.6) scale(0.77,1)" font-size="10.5" text-anchor="middle" fill="rgb(0,0,255)">4</text>
<text transform="translate(141.00,380.6) scale(0.77,1)" font-size="10.5" text-anchor="middle" fill="rgb(0,0,255)">1</text>
<text transform="translate(147.00,380.6) scale(0.77,1)" font-size="10.5" text-anchor="middle" fill="rgb(0,0,255)">2</text>
<line x1="164.4" y1="329.4" x2="169.6" y2="377.0" stroke="rgb(0,0,255)" stroke-width="1"/>
<text transform="translate(158.00,386.6) scale(0.77,1)" font-size="10.5" text-anchor="middle" fill="rgb(0,0,255)">R</text>
<text transform="translate(164.00,386.6) scale(0.77,1)" font-size="10.5" text-anchor="middle" fill="rgb(0,0,255)">B</text>
<text transform="translate(170.00,386.6) scale(0.77,1)" font-size="10.5" text-anchor="middle" fill="rgb(0,0,255)">4</text>
<text transform="translate(176.00,386.6) scale(0.77,1)" font-size="10.5" text-anchor="middle" fill="rgb(0,0,255)">1</text>
<text transform="translate(182.00,386.6) scale(0.77,1)" font-size="10.5" text-anchor="middle" fill="rgb(0,0,255)">3</text>
<line x1="368.7" y1="369.2" x2="358.7" y2="414.2" stroke="rgb(0,0,255)" stroke-width="1"/>
<text transform="translate(346.00,423.7) scale(0.77,1)" font-size="10.5" text-anchor="middle" fill="rgb(0,0,255)">R</text>
<text transform="translate(352.00,423.7) scale(0.77,1)" font-size="10.5" text-anchor="middle" fill="rgb(0,0,255)">B</text>
<text transform="translate(358.00,423.7) scale(0.77,1)" font-size="10.5" text-anchor="middle" fill="rgb(0,0,255)">4</text>
<text transform="translate(364.00,423.7) scale(0.77,1)" font-size="10.5" text-anchor="middle" fill="rgb(0,0,255)">2</text>
<text transform="translate(370.00,423.7) scale(0.77,1)" font-size="10.5" text-anchor="middle" fill="rgb(0,0,255)">4</text>
<text x="142.6" y="22.4" font-size="12.5" font-style="italic" fill="#000" textLength="314" lengthAdjust="spacing">Rhodopirellula baltica SH 1, complete genome</text>
<text x="9.5" y="587.5" font-size="12.5" fill="#000" textLength="133.5" lengthAdjust="spacing">Accession: NC_005027</text>
<text x="262.8" y="587.5" font-size="12.5" fill="#000" textLength="326.2" lengthAdjust="spacing">Topology: circular; Length: 7,145,576 bp; Genes: 7,405</text>
</svg>
</body></html>
